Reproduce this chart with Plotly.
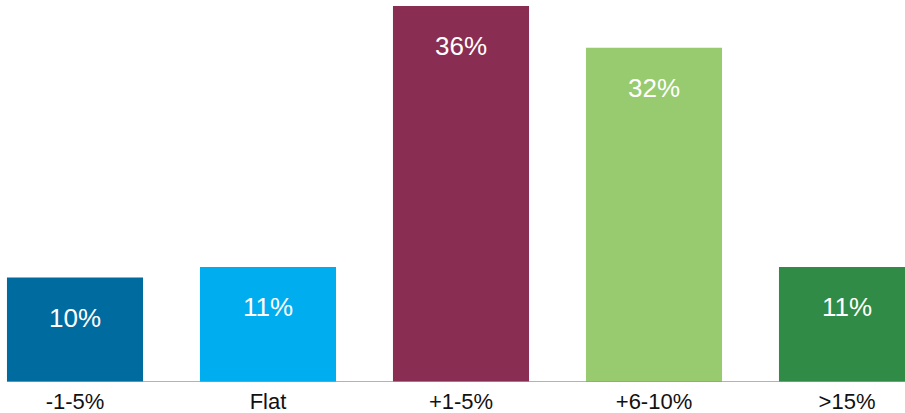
import plotly.graph_objects as go

categories = ["-1-5%", "Flat", "+1-5%", "+6-10%", ">15%"]
values = [10, 11, 36, 32, 11]
colors = ["#006b9f", "#00aeef", "#8a2d52", "#98ca6f", "#2f8b45"]

bargap = 0.295
fig = go.Figure()
fig.add_trace(go.Bar(
    x=categories, y=values, marker=dict(color=colors, line=dict(width=0)),
    hoverinfo="skip",
))
for c, v in zip(categories, values):
    fig.add_annotation(x=c, y=v, text=f"{v}%", showarrow=False, yshift=-40,
                       font=dict(family="Liberation Sans, Arial", size=26, color="white"))

half = (1 - bargap) / 2
fig.add_shape(type="line", xref="x", yref="y", x0=-half, x1=4.6, y0=0, y1=0,
              line=dict(color="#9a9a9a", width=1.5), layer="above")

fig.update_layout(
    width=905, height=413,
    margin=dict(l=0, r=0, t=6, b=31, autoexpand=False),
    paper_bgcolor="white", plot_bgcolor="white",
    bargap=bargap, showlegend=False,
    xaxis=dict(range=[-75/193, -75/193 + 905/193], showgrid=False, zeroline=False,
               showline=False, ticks="", ticklabelstandoff=4, automargin=False,
               tickfont=dict(family="Liberation Sans, Arial", size=22, color="#111"),
               fixedrange=True),
    yaxis=dict(range=[0, 36], visible=False, fixedrange=True),
)
fig.write_html("out.html", config={"displayModeBar": False},
               post_script="document.body.style.margin='0';document.body.style.overflow='hidden';")
